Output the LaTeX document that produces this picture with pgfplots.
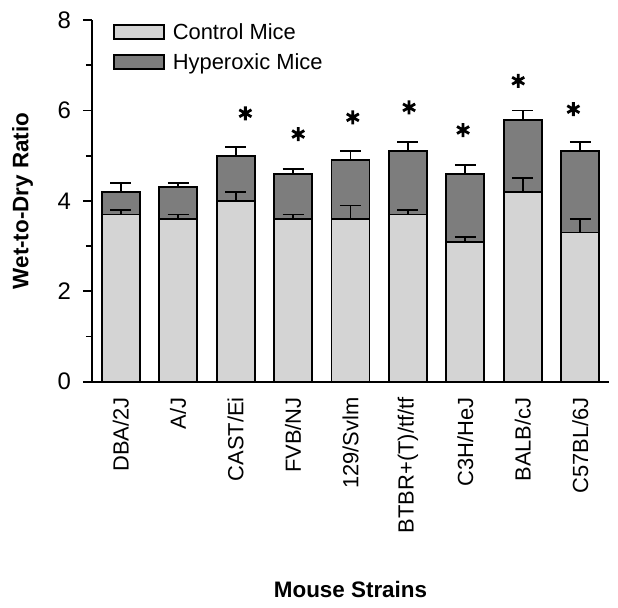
\documentclass[border=0pt]{standalone}
\usepackage{fontspec}
\setmainfont{Liberation Sans}
\usepackage{pgfplots}
\pgfplotsset{compat=1.18}
\definecolor{lightbar}{RGB}{212,212,212}
\definecolor{darkbar}{RGB}{125,125,125}
\begin{document}
\begin{tikzpicture}
\path[use as bounding box] (-92bp,-226.3bp) rectangle (526bp,381.7bp);
\begin{axis}[
 scale only axis, width=517bp, height=361.5bp,
 xmin=-0.5, xmax=8.5, ymin=0, ymax=8,
 clip=false,
 axis x line*=bottom, axis y line*=left,
 axis line style={-, line width=1.8bp, black},
 xtick={0,...,8},
 xticklabels={DBA/2J, A/J, CAST/Ei, FVB/NJ, 129/Svlm, BTBR+(T)/tf/tf, C3H/HeJ, BALB/cJ, C57BL/6J},
 xticklabel style={rotate=90, anchor=east, inner sep=0pt, font=\fontsize{22}{22}\selectfont},
 xticklabel shift=6.5bp,
 xtick style={draw=none},
 ytick={0,2,4,6,8}, minor ytick={1,3,5,7},
 tick align=outside, major tick length=9bp, minor tick length=6bp,
 ytick style={line width=1.8bp, black},
 minor tick style={line width=1.8bp, black},
 yticklabel style={anchor=east, inner sep=0pt, font=\fontsize{24}{24}\selectfont},
 yticklabel shift=12bp,
 /pgf/number format/assume math mode=true,
 every axis y label/.style={at={(axis description cs:-0.1344,0.5)}, rotate=90, anchor=center},
 every axis x label/.style={at={(axis description cs:0.5,-0.598)}, anchor=base},
 ylabel={\fontsize{22.5}{22.5}\selectfont\bfseries Wet-to-Dry Ratio},
 xlabel={\fontsize{22.5}{22.5}\selectfont\bfseries Mouse Strains},
 legend style={at={(axis description cs:0,1)}, anchor=north west, xshift=21bp, yshift=-3.7bp,
   draw=none, fill=none, inner sep=0pt, outer sep=0pt, row sep=14bp,
   font=\fontsize{22}{22}\selectfont,
   nodes={inner sep=0pt, text height=16bp, text depth=0bp},
   /tikz/every odd column/.append style={column sep=8bp}},
 legend cell align=left,
 reverse legend,
]
% Hyperoxic mice (drawn behind)
\addplot[ybar, bar width=38bp, bar shift=0pt, fill=darkbar, draw=black, line width=1.8bp,
  legend image code/.code={\draw[fill=darkbar, draw=black, line width=1.8bp] (0bp,-7bp) rectangle (50bp,7bp);},
  error bars/.cd, y dir=plus, y explicit,
  error bar style={line width=1.8bp, black},
  error mark options={rotate=90, mark size=10.5bp, line width=1.8bp, black}]
  table[x=x, y=y, y error=e] {
x y e
0 4.2 0.2
1 4.3 0.1
2 5.0 0.2
3 4.6 0.1
4 4.9 0.2
5 5.1 0.2
6 4.6 0.2
7 5.8 0.2
8 5.1 0.2
};
\addlegendentry{Hyperoxic Mice}
% Control mice (drawn in front)
\addplot[ybar, bar width=38bp, bar shift=0pt, fill=lightbar, draw=black, line width=1.8bp,
  legend image code/.code={\draw[fill=lightbar, draw=black, line width=1.8bp] (0bp,-7bp) rectangle (50bp,7bp);},
  error bars/.cd, y dir=plus, y explicit,
  error bar style={line width=1.8bp, black},
  error mark options={rotate=90, mark size=10.5bp, line width=1.8bp, black}]
  table[x=x, y=y, y error=e] {
x y e
0 3.7 0.1
1 3.6 0.1
2 4.0 0.2
3 3.6 0.1
4 3.6 0.3
5 3.7 0.1
6 3.1 0.1
7 4.2 0.3
8 3.3 0.3
};
\addlegendentry{Control Mice}
% significance stars
\addplot[only marks, mark=asterisk, mark size=7bp, mark options={line width=2.8bp, black}, forget plot]
  coordinates {(2.17,5.94) (3.09,5.48) (4.04,5.85) (5.02,6.07) (5.96,5.57) (6.92,6.66) (7.88,6.03)};
\end{axis}
\end{tikzpicture}
\end{document}
